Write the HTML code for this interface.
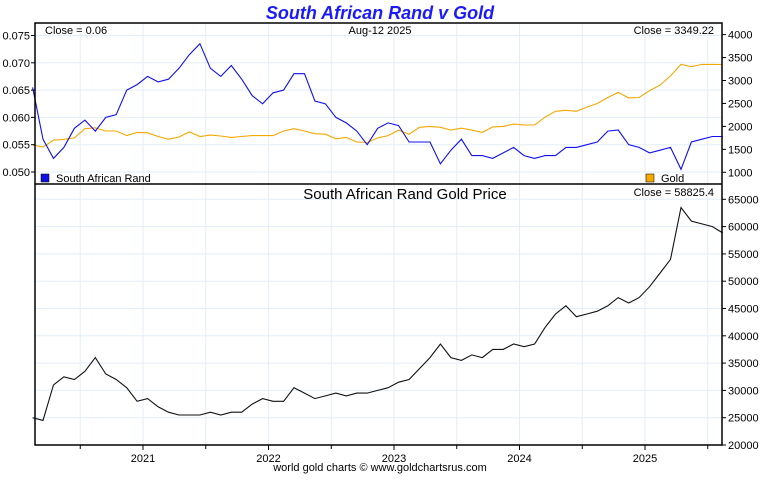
<!DOCTYPE html>
<html><head><meta charset="utf-8"><style>
body{margin:0;background:#fff;font-family:"Liberation Sans",sans-serif}
svg text{font-family:"Liberation Sans",sans-serif}
</style></head><body>
<svg id="c" width="760" height="475" xmlns="http://www.w3.org/2000/svg">
<text x="380" y="19" text-anchor="middle" font-size="18" font-weight="bold" font-style="italic" fill="#1a1aff">South African Rand v Gold</text>
<g id="grid"></g>
<g id="marks"></g>
<rect x="35" y="23" width="687" height="422" fill="none" stroke="#000" stroke-width="1.5"/>
<line x1="35" y1="184" x2="722" y2="184" stroke="#000" stroke-width="1.5"/>
<g id="axes" font-size="11"></g>
<text x="45" y="34" font-size="11">Close = 0.06</text>
<text x="380" y="34" font-size="11" text-anchor="middle">Aug-12  2025</text>
<text x="714" y="34" font-size="11" text-anchor="end">Close = 3349.22</text>
<rect x="41" y="174" width="8" height="8" fill="#1010e0" stroke="#000" stroke-width="0.5"/>
<text x="56" y="182" font-size="11">South African Rand</text>
<rect x="646" y="174" width="8" height="8" fill="#f5a800" stroke="#000" stroke-width="0.5"/>
<text x="661" y="182" font-size="11">Gold</text>
<text x="405" y="199" font-size="15" text-anchor="middle">South African Rand Gold Price</text>
<text x="714" y="196" font-size="11" text-anchor="end">Close = 58825.4</text>
<text x="380" y="471" font-size="11" text-anchor="middle">world gold charts © www.goldchartsrus.com</text>
</svg>
<script>
const randValues=[0.0655,0.056,0.0525,0.0545,0.058,0.0595,0.0575,0.060,0.0605,0.065,0.066,
0.0675,0.0665,0.067,0.069,0.0715,0.0735,0.069,0.0675,0.0695,0.067,0.064,0.0625,
0.0645,0.065,0.068,0.068,0.063,0.0625,0.060,0.059,0.0575,0.055,0.058,0.059,
0.0585,0.0555,0.0555,0.0555,0.0515,0.054,0.056,0.053,0.053,0.0525,0.0535,0.0545,
0.053,0.0525,0.053,0.053,0.0545,0.0545,0.055,0.0555,0.0575,0.0577,0.055,0.0545,
0.0535,0.054,0.0545,0.0505,0.0555,0.056,0.0565,0.0565];
const goldValues=[1600,1550,1700,1720,1750,1950,1970,1900,1900,1800,1870,
1860,1780,1720,1770,1880,1780,1810,1790,1760,1780,1800,1800,
1800,1900,1950,1900,1840,1830,1730,1760,1660,1650,1750,1800,
1920,1830,1980,2000,1980,1920,1960,1920,1870,1990,2000,2050,
2030,2030,2200,2330,2350,2330,2420,2500,2630,2740,2620,2630,
2780,2900,3100,3350,3300,3350,3350,3349.22];
const zarGoldValues=[25000,24500,31000,32500,32000,33500,36000,33000,32000,30500,28000,
28500,27000,26000,25500,25500,25500,26000,25500,26000,26000,27500,28500,
28000,28000,30500,29500,28500,29000,29500,29000,29500,29500,30000,30500,
31500,32000,34000,36000,38500,36000,35500,36500,36000,37500,37500,38500,
38000,38500,41500,44000,45500,43500,44000,44500,45500,47000,46000,47000,
49000,51500,54000,63500,61000,60500,60000,58825.4];
const yearLabels=["2021","2022","2023","2024","2025"];
const randTicks=["0.050","0.055","0.060","0.065","0.070","0.075"];
const goldTicks=["1000","1500","2000","2500","3000","3500","4000"];
const zarTicks=["20000","25000","30000","35000","40000","45000","50000","55000","60000","65000"];
const startT=2020.12;
const NS="http://www.w3.org/2000/svg";
const xT=t=>143+(t-2021)*125.5;
const xI=i=>xT(startT+i/12);
const yRand=v=>172-(v-0.05)/0.005*27.3;
const yGold=v=>172.3-(v-1000)/1000*45.9;
const yZar=v=>445-(v-20000)/5000*27.3;
function mk(tag,at,parent){const e=document.createElementNS(NS,tag);for(const k in at)e.setAttribute(k,at[k]);document.getElementById(parent).appendChild(e);return e;}
for(let y=2020.5;y<2026;y+=0.5){const x=xT(y);if(x<36||x>721)continue;
 const g=mk('line',{x1:x,y1:23,x2:x,y2:445,stroke:'#e3eef8','stroke-width':1},'grid');
 
 
 const tk=mk('line',{x1:x,y1:445,x2:x,y2:y%1===0?450:449,stroke:'#000'},'axes');
 
 }
yearLabels.forEach(l=>{const t=mk('text',{x:xT(+l),y:462,'text-anchor':'middle'},'axes');t.textContent=l;
 
 });
randTicks.forEach(l=>{const y=yRand(+l);
 const g=mk('line',{x1:35,y1:y,x2:722,y2:y,stroke:'#e3eef8'},'grid');
 
 
 mk('line',{x1:31,y1:y,x2:35,y2:y,stroke:'#000'},'axes');
 const t=mk('text',{x:30,y:y+4,'text-anchor':'end'},'axes');t.textContent=l;
 
 });
goldTicks.forEach(l=>{const y=yGold(+l);
 mk('line',{x1:722,y1:y,x2:726,y2:y,stroke:'#000'},'axes');
 const t=mk('text',{x:728,y:y+4},'axes');t.textContent=l;
 
 });
zarTicks.forEach(l=>{const y=yZar(+l);
 const g=mk('line',{x1:35,y1:y,x2:722,y2:y,stroke:'#e3eef8'},'grid');
 
 
 mk('line',{x1:722,y1:y,x2:726,y2:y,stroke:'#000'},'axes');
 const t=mk('text',{x:728,y:y+4},'axes');t.textContent=l;
 
 });
function line(arr,yf,color,name){const d=arr.map((v,i)=>(i?'L':'M')+xI(i).toFixed(1)+','+yf(v).toFixed(1)).join('');
 const p=mk('path',{d:d,fill:'none',stroke:color,'stroke-width':1.1},'marks');
 
 }
line(goldValues,yGold,'#f5a800','gold-line');
line(randValues,yRand,'#1010f0','rand-line');
line(zarGoldValues,yZar,'#111','zar-gold-line');
</script>
</body></html>
